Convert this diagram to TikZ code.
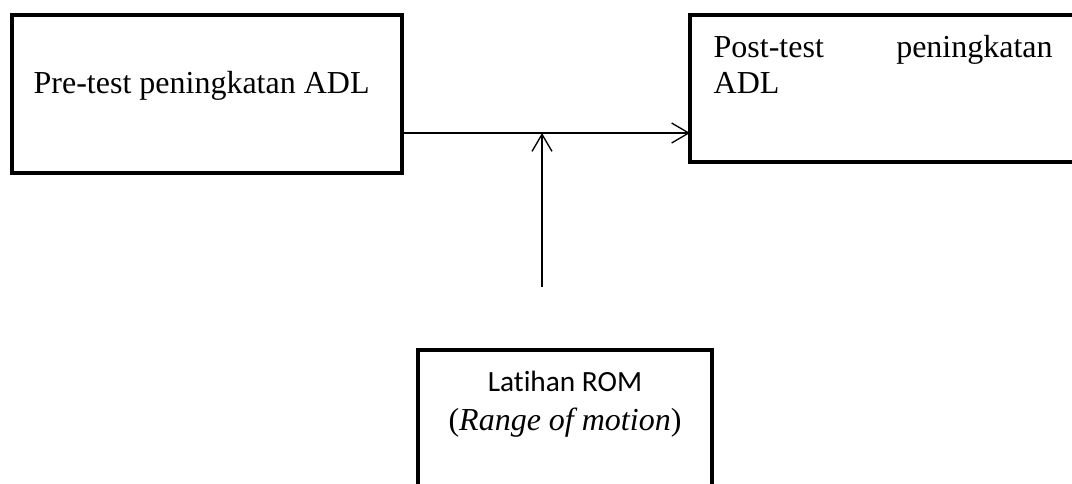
\documentclass[tikz,border=0pt]{standalone}
\usepackage{fontspec}
\setmainfont{Liberation Serif}
\newfontfamily\calibri[Ligatures=NoCommon]{Carlito}
\usetikzlibrary{arrows.meta}

\begin{document}
\begin{tikzpicture}[x=0.375pt, y=-0.375pt, line width=0.5pt, >={Straight Barb[length=6.4pt, width=7.5pt]},
  box/.style = {draw, line width=1.7pt, inner sep=0pt, outer sep=0pt, anchor=north west},
  txt/.style = {inner sep=0pt, font=\fontsize{12}{13.5}\selectfont},
  sans/.style = {inner sep=0pt, font=\calibri\fontsize{11}{13}\selectfont}]
\path[use as bounding box, clip] (0,0) rectangle (1072,483);
\node[box, minimum width=146.25pt, minimum height=59.25pt] (pre) at (12,15) {};
\node[box, minimum width=145.125pt, minimum height=55.125pt] (post) at (690,15) {};
\node[box, minimum width=110.25pt, minimum height=67.5pt] (rom) at (418,350) {};
\node[txt, anchor=base west] (pretxt) at (33,93) {Pre-test peningkatan ADL};
\node[txt, anchor=base west, text width=127.125pt] (posttxt) at (713,57) {Post-test\hfill peningkatan};
\node[txt, anchor=base west] (posttxt2) at (713,93) {ADL};
\node[sans, anchor=base] (romtxt) at (565,391) {Latihan ROM};
\node[txt, anchor=base] (romsub) at (565,430) {(\textit{Range of motion})};
\coordinate (mid) at (542,133);
\coordinate (foot) at (542,287);
\draw[->] (pre.east |- mid) -- (post.west |- mid);
\draw[->] (foot) -- (mid);
\end{tikzpicture}
\end{document}
